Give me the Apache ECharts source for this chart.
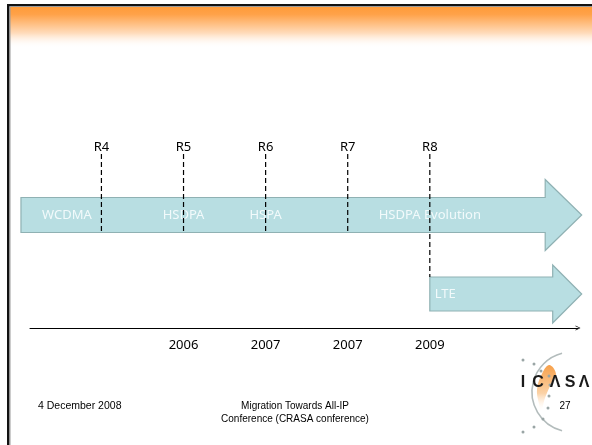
<!DOCTYPE html>
<html>
<head>
<meta charset="utf-8">
<script src="https://cdn.jsdelivr.net/npm/echarts@6/dist/echarts.min.js"></script>
<style>
  html, body { margin: 0; padding: 0; background: #fff; }
  #c { width: 592px; height: 445px; }
</style>
</head>
<body>
<div id="c"></div>
<script>
// 3GPP release milestones on the timeline
const releases = ['R4', 'R5', 'R6', 'R7', 'R8'];
const releaseAt = [1, 2, 3, 4, 5];

// Year labels shown under the timeline
const yearTicks = [2, 3, 4, 5];
const yearLabels = ['2006', '2007', '2007', '2009'];

// Technology tracks: start, end and lane on the chart
const trackStart = [0.02, 5];
const trackEnd = [6.85, 6.85];
const trackLane = [5.65, 1.7];

// Phase names written inside the tracks
const phases = ['WCDMA', 'HSDPA', 'HSPA', 'HSDPA Evolution', 'LTE'];
const phaseAt = [0.58, 2, 3, 5, 5];
const phaseTrack = [0, 0, 0, 0, 1];

// Arrow geometry per track (pixels)
const BODY_HALF = [17.5, 17];
const HEAD_HALF = [35.5, 29];
const HEAD_LEN = [36.5, 29];
const RELEASE_TOP = 8.7;

const FONT = '"Noto Sans", "DejaVu Sans", sans-serif';
const FOOT_FONT = '"Liberation Sans", Arial, sans-serif';

const chart = echarts.init(document.getElementById('c'), null, { renderer: 'canvas' });

function trackBottomAt(x, api) {
  // lowest track covering x: stop at its top if it begins here, else pass through it
  let best = -1;
  for (let t = 0; t < trackStart.length; t++) {
    if (trackStart[t] <= x + 1e-9 && trackEnd[t] >= x) {
      if (best < 0 || trackLane[t] < trackLane[best]) best = t;
    }
  }
  const yc = api.coord([x, trackLane[best]])[1];
  return Math.abs(trackStart[best] - x) < 1e-9 ? yc - BODY_HALF[best] : yc + BODY_HALF[best];
}

const option = {
  animation: false,
  backgroundColor: '#fff',
  grid: { left: 30, right: 14, top: 128, bottom: 117 },
  xAxis: {
    type: 'value',
    min: 0.13,
    max: 6.805,
    splitLine: { show: false },
    axisTick: { show: false },
    axisLine: {
      show: true,
      lineStyle: { color: '#000', width: 1 },
      symbol: ['none', 'path://M0,10 L5,0 L10,10 L8.6,10 L5,2.8 L1.4,10 Z'],
      symbolSize: [7, 5]
    },
    axisLabel: {
      customValues: yearTicks,
      formatter: v => yearLabels[yearTicks.indexOf(v)],
      color: '#000',
      fontSize: 13,
      fontFamily: FONT,
      margin: 11
    }
  },
  yAxis: { type: 'value', min: 0, max: 10, show: false },
  series: [
    {
      // technology tracks drawn as block arrows
      type: 'custom',
      clip: false,
      z: 2,
      data: trackStart.map((s, i) => [s, trackEnd[i], trackLane[i]]),
      renderItem(params, api) {
        const i = params.dataIndex;
        const s = api.coord([api.value(0), api.value(2)]);
        const e = api.coord([api.value(1), api.value(2)]);
        const b = BODY_HALF[i], h = HEAD_HALF[i], L = HEAD_LEN[i];
        const x0 = s[0], x1 = e[0], y = s[1], xh = x1 - L;
        return {
          type: 'polygon',
          shape: { points: [[x0, y - b], [xh, y - b], [xh, y - h], [x1, y], [xh, y + h], [xh, y + b], [x0, y + b]] },
          style: { fill: '#b8dee2', stroke: '#8fb1b3', lineWidth: 1.2 }
        };
      }
    },
    {
      // phase names
      type: 'custom',
      clip: false,
      z: 3,
      data: phaseAt.map((x, i) => [x, trackLane[phaseTrack[i]], i]),
      renderItem(params, api) {
        const i = params.dataIndex;
        const t = phaseTrack[i];
        const p = api.coord([api.value(0), api.value(1)]);
        const atStart = Math.abs(trackStart[t] - phaseAt[i]) < 1e-9;
        return {
          type: 'text',
          x: atStart ? p[0] + 5 : p[0],
          y: p[1] + 0.5,
          style: {
            text: phases[i],
            fill: '#f2fafb',
            font: '13px ' + FONT,
            align: atStart ? 'left' : 'center',
            verticalAlign: 'middle'
          }
        };
      }
    },
    {
      // release markers: dashed drop lines with labels
      type: 'custom',
      clip: false,
      z: 4,
      data: releaseAt.map((x, i) => [x, i]),
      renderItem(params, api) {
        const x = api.value(0);
        const top = api.coord([x, RELEASE_TOP]);
        const bottom = trackBottomAt(x, api);
        return {
          type: 'group',
          children: [
            {
              type: 'line',
              shape: { x1: top[0], y1: top[1], x2: top[0], y2: bottom },
              style: { stroke: '#000', lineWidth: 1.2, lineDash: [5, 3] }
            },
            {
              type: 'text',
              x: top[0],
              y: top[1] - 7,
              style: {
                text: releases[params.dataIndex],
                fill: '#000',
                font: '13px ' + FONT,
                align: 'center',
                verticalAlign: 'middle'
              }
            }
          ]
        };
      }
    }
  ],
  graphic: [
    // slide frame and header band
    {
      type: 'rect', silent: true, z: -10,
      shape: { x: 10, y: 6, width: 582, height: 42 },
      style: {
        fill: new echarts.graphic.LinearGradient(0, 0, 0, 1, [
          { offset: 0, color: '#ff9a36' },
          { offset: 0.2, color: '#ffa249' },
          { offset: 0.65, color: '#ffdcbc' },
          { offset: 1, color: 'rgba(255,255,255,0)' }
        ])
      }
    },
    { type: 'rect', silent: true, shape: { x: 7, y: 4, width: 585, height: 2 }, style: { fill: '#111' } },
    { type: 'rect', silent: true, shape: { x: 9, y: 6, width: 583, height: 1 }, style: { fill: '#9a9a9a' } },
    { type: 'rect', silent: true, shape: { x: 7, y: 4, width: 2.5, height: 441 }, style: { fill: '#111' } },
    { type: 'rect', silent: true, shape: { x: 9.5, y: 6, width: 1, height: 439 }, style: { fill: '#9a9a9a' } },

    // footer
    {
      type: 'text', x: 38, y: 406,
      style: { text: '4 December 2008', fill: '#000', font: '10.5px ' + FOOT_FONT, verticalAlign: 'middle' }
    },
    {
      type: 'text', x: 295, y: 406,
      style: { text: 'Migration Towards All-IP', fill: '#000', font: '10px ' + FOOT_FONT, align: 'center', verticalAlign: 'middle' }
    },
    {
      type: 'text', x: 295, y: 419,
      style: { text: 'Conference (CRASA conference)', fill: '#000', font: '10px ' + FOOT_FONT, align: 'center', verticalAlign: 'middle' }
    },

    // ICASA logo
    {
      type: 'polygon', silent: true,
      shape: { points: [[549, 365], [541, 376], [537, 390], [539, 404], [541, 412], [545, 398], [551, 384], [556, 374]], smooth: 0.4 },
      style: {
        fill: new echarts.graphic.LinearGradient(0, 0, 0, 1, [
          { offset: 0, color: '#f7a04a' },
          { offset: 0.6, color: '#fbd2a6' },
          { offset: 1, color: 'rgba(255,255,255,0)' }
        ])
      }
    },
    {
      type: 'arc', silent: true,
      shape: { cx: 572, cy: 392, r: 40, startAngle: Math.PI * 0.58, endAngle: Math.PI * 1.42, clockwise: true },
      style: { stroke: '#b3bcbc', lineWidth: 1.6, fill: null }
    },
    ...[[523, 360], [534, 364], [541, 371], [549, 376], [550, 385], [549, 396], [548, 408], [543, 419], [534, 427], [523, 432]].map(p => ({
      type: 'circle', silent: true,
      shape: { cx: p[0], cy: p[1], r: 1.5 },
      style: { fill: '#9aa5a5' }
    })),
    ...[['I', 523], ['C', 538], ['\u039B', 555], ['S', 570], ['\u039B', 584]].map(l => ({
      type: 'text', x: l[1], y: 383,
      style: { text: l[0], fill: '#1a1a1a', font: 'bold 16px ' + FOOT_FONT, align: 'center', verticalAlign: 'middle' }
    })),
    {
      type: 'text', x: 565, y: 406,
      style: { text: '27', fill: '#000', font: '10px ' + FOOT_FONT, align: 'center', verticalAlign: 'middle' }
    }
  ]
};

chart.setOption(option);
</script>
</body>
</html>
